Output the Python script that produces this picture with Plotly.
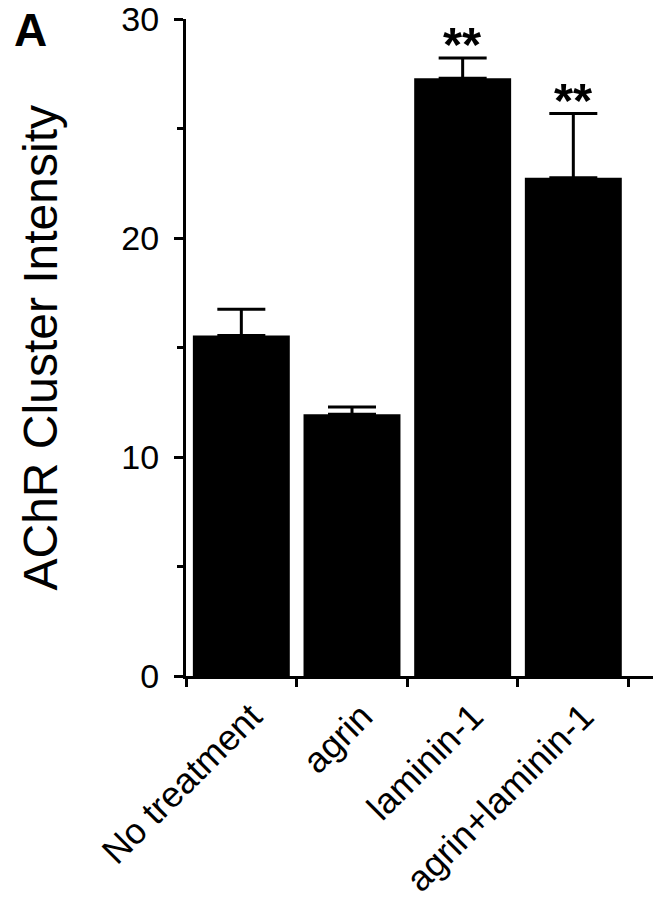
import plotly.graph_objects as go

categories = ["No treatment", "agrin", "laminin-1", "agrin+laminin-1"]
means = [15.55, 11.95, 27.3, 22.75]
errors = [1.2, 0.33, 0.92, 2.93]
stars = ["", "", "**", "**"]
y_ticks = [0, 10, 20, 30]

FONT = "Arial, 'Liberation Sans', Helvetica, sans-serif"

fig = go.Figure()
fig.add_trace(go.Bar(
    x=categories,
    y=means,
    marker=dict(color="black", line=dict(width=0)),
    error_y=dict(type="data", symmetric=False, array=errors,
                 arrayminus=[0] * len(errors),
                 color="black", thickness=3, width=24),
    width=0.876,
))

for i, s in enumerate(stars):
    if s:
        fig.add_annotation(x=categories[i], y=means[i] + errors[i], text="<b>" + s + "</b>",
                           showarrow=False, yanchor="bottom", yshift=-15,
                           font=dict(family=FONT, size=49, color="black"))

fig.add_annotation(xref="paper", yref="paper", x=(40 - 186) / 467, y=0.5,
                   text="AChR Cluster Intensity", textangle=-90, showarrow=False,
                   xanchor="center", yanchor="middle",
                   font=dict(family=FONT, size=48, color="black"))

fig.add_annotation(xref="paper", yref="paper", x=(30 - 186) / 467, y=1 - (30 - 19) / 657,
                   text="<b>A</b>", showarrow=False, xanchor="center", yanchor="middle",
                   font=dict(family=FONT, size=46, color="black"))

fig.update_layout(
    width=655, height=899,
    margin=dict(l=186, r=2, t=19, b=223, autoexpand=False),
    plot_bgcolor="white", paper_bgcolor="white",
    showlegend=False,
    font=dict(family=FONT, color="black"),
    bargap=0.124,
)
fig.update_xaxes(
    type="category",
    range=[-0.5, 3.72],
    tickson="boundaries",
    tickangle=-45, tickfont=dict(size=36, family=FONT, color="black"),
    ticklabelstandoff=2, ticklabelshift=10, ticklabeloverflow="allow",
    showline=True, linecolor="black", linewidth=3,
    ticks="outside", ticklen=8, tickwidth=3, tickcolor="black",
    showgrid=False, zeroline=False, automargin=False,
)
fig.update_yaxes(
    range=[0, 30],
    tickmode="array", tickvals=y_ticks,
    tickfont=dict(size=34, family=FONT, color="black"),
    ticklabelstandoff=8, ticklabeloverflow="allow",
    showline=True, linecolor="black", linewidth=3,
    ticks="outside", ticklen=9, tickwidth=3, tickcolor="black",
    minor=dict(tickmode="array", tickvals=[5, 15, 25], ticks="outside", ticklen=6,
               tickwidth=3, tickcolor="black", showgrid=False),
    showgrid=False, zeroline=False, automargin=False,
)

fig.write_html("out.html", config={"displayModeBar": False},
               post_script="document.body.style.margin='0';document.body.style.overflow='hidden';")
